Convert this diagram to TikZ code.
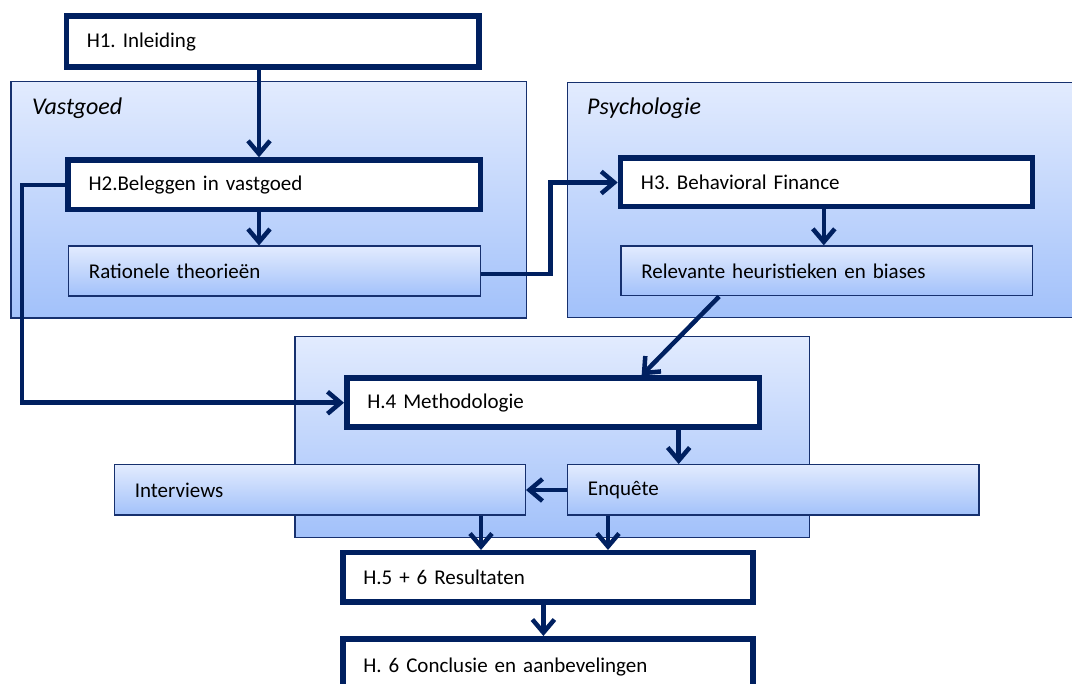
\documentclass[tikz,border=0pt]{standalone}
\usepackage{fontspec}
\setmainfont{Carlito}
\usetikzlibrary{arrows.meta,calc}

\definecolor{navy}{RGB}{0,32,96}
\definecolor{edge}{RGB}{22,48,110}
\definecolor{gtop}{RGB}{226,235,254}
\definecolor{gbot}{RGB}{162,193,250}

\tikzset{
  every node/.append style={font=\fontsize{21}{24}\selectfont\frenchspacing},
  chap/.style={draw=navy, fill=white, align=left, inner xsep=20.5pt, inner ysep=0pt},
  soft/.style={draw=edge, top color=gtop, bottom color=gbot, align=left, inner xsep=20.5pt, inner ysep=0pt},
  tag/.style={font=\fontsize{24}{28}\selectfont\itshape, inner sep=0pt, anchor=base west},
  conn/.style={draw=navy, line width=4.5pt, -{Straight Barb[length=13pt,width=22pt]}},
}

% box from its outer corners: style, name, x1, y1, x2, y2, line width, text
\newcommand\placebox[8]{%
  \pgfmathsetmacro\bxc{(#3+#5)/2}%
  \pgfmathsetmacro\byc{(#4+#6)/2}%
  \pgfmathsetmacro\bw{#5-#3-#7}%
  \pgfmathsetmacro\bh{#6-#4-#7}%
  \pgfmathsetmacro\btw{\bw-41}%
  \node[#1, line width=#7pt, minimum width=\bw pt, minimum height=\bh pt,
        text width=\btw pt] (#2) at (\bxc,\byc) {#8};%
}

\begin{document}
\begin{tikzpicture}[x=1pt,y=-1pt]
\useasboundingbox (0,0) rectangle (1072,684);
\fill[white] (0,0) rectangle (1072,684);

% grouping panels
\placebox{soft}{pvast}{10}{81}{527.3}{319}{1.5}{}
\placebox{soft}{ppsy}{566.5}{82}{1085}{318.3}{1.5}{}
\placebox{soft}{pmeth}{294}{335.7}{810}{538.3}{1.5}{}
\node[tag] (lvast) at (32,115) {Vastgoed};
\node[tag] (lpsy) at (587,115) {Psychologie};

% chapters
\placebox{chap}{h1}{63.5}{13.5}{481.7}{70}{5.5}{H1. Inleiding}
\placebox{chap}{h2}{65.3}{157.3}{483}{212.3}{5.5}{H2.Beleggen in vastgoed}
\placebox{chap}{h3}{617.7}{155.5}{1035}{209.5}{5.5}{H3. Behavioral Finance}
\placebox{chap}{h4}{344}{375.5}{762}{430}{5.5}{H.4 Methodologie}
\placebox{chap}{h5}{340}{550}{755.5}{605}{5.5}{H.5 + 6 Resultaten}
\placebox{chap}{h6}{340}{636}{755.5}{698}{5.5}{H. 6 Conclusie en aanbevelingen}

% sub topics
\placebox{soft}{rat}{67.7}{245.5}{481.4}{296.7}{1.5}{Rationele theorieën}
\placebox{soft}{rel}{620}{245.3}{1033}{296.5}{1.5}{Relevante heuristieken en biases}
\placebox{soft}{int}{113.5}{464}{526}{516}{1.5}{Interviews}
\placebox{soft}{enq}{566.6}{464}{979.5}{516}{1.5}{Enquête}

% connector columns
\coordinate (xa) at (259,0);
\coordinate (xl) at (22,0);
\coordinate (xm) at (550.7,0);
\coordinate (xb) at (823.8,0);
\coordinate (xc) at (678.7,0);
\coordinate (xd) at (481,0);
\coordinate (xe) at (608,0);
\coordinate (xf) at (543.4,0);

\draw[conn] (h1.south -| xa) -- (h2.north -| xa);
\draw[conn] (h2.south -| xa) -- (rat.north -| xa);
\draw[conn] (h2.west) -- (h2.west -| xl) -- (h4.west -| xl) -- (h4.west);
\draw[conn] ([yshift=-3pt]rat.east) -- ([yshift=-3pt]rat.east -| xm)
            -- (h3.west -| xm) -- (h3.west);
\draw[conn] (h3.south -| xb) -- (rel.north -| xb);
\draw[conn] ($(rel.south west)!0.24!(rel.south east)$)
            -- ($(h4.north west)!0.712!(h4.north east)$);
\draw[conn] (h4.south -| xc) -- (enq.north -| xc);
\draw[conn] (enq.west) -- (int.east);
\draw[conn] (int.south -| xd) -- (h5.north -| xd);
\draw[conn] (enq.south -| xe) -- (h5.north -| xe);
\draw[conn] (h5.south -| xf) -- (h6.north -| xf);
\end{tikzpicture}
\end{document}
